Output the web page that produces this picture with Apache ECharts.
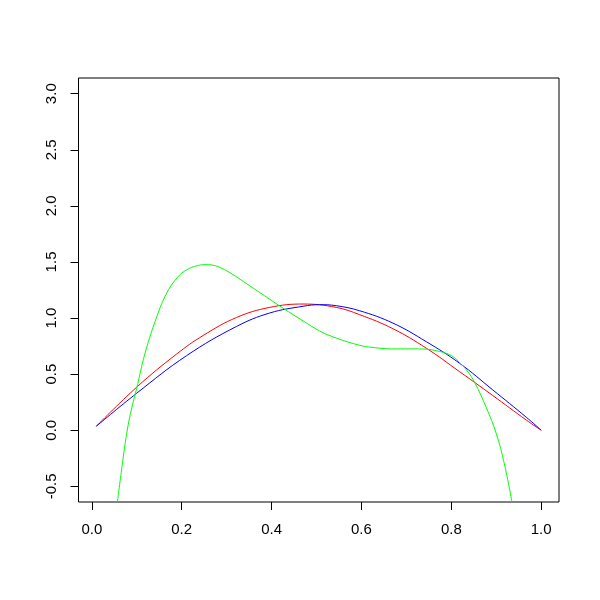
<!DOCTYPE html>
<html>
<head>
<meta charset="utf-8">
<script src="https://cdn.jsdelivr.net/npm/echarts@6/dist/echarts.min.js"></script>
<style>html,body{margin:0;padding:0;background:#fff}#c{width:600px;height:600px}</style>
</head>
<body>
<div id="c"></div>
<script>
// Values
var redX  = [0.01, 0.10, 0.189, 0.248, 0.322, 0.396, 0.470, 0.544, 0.596, 0.670, 0.744, 0.818, 0.892, 0.967, 1.00];
var redY  = [0.035, 0.384, 0.680, 0.845, 1.005, 1.095, 1.125, 1.095, 1.030, 0.905, 0.732, 0.523, 0.310, 0.090, 0.000];
var blueX = [0.01, 0.10, 0.211, 0.322, 0.396, 0.470, 0.507, 0.544, 0.596, 0.670, 0.744, 0.818, 0.892, 0.967, 1.00];
var blueY = [0.035, 0.330, 0.665, 0.925, 1.045, 1.105, 1.119, 1.110, 1.065, 0.955, 0.790, 0.598, 0.360, 0.115, 0.000];
var greenX = [0.057, 0.067, 0.078, 0.089, 0.100, 0.118, 0.141, 0.165, 0.190, 0.211, 0.235, 0.255, 0.275, 0.295, 0.315, 0.345, 0.385, 0.426, 0.470, 0.507, 0.544, 0.596, 0.618, 0.670, 0.710, 0.744, 0.774, 0.789, 0.804, 0.818, 0.835, 0.852, 0.878, 0.900, 0.918, 0.935];
var greenY = [-0.640, -0.330, -0.020, 0.200, 0.375, 0.680, 0.970, 1.210, 1.360, 1.430, 1.467, 1.476, 1.466, 1.432, 1.385, 1.305, 1.197, 1.087, 0.975, 0.885, 0.821, 0.757, 0.741, 0.725, 0.725, 0.723, 0.702, 0.685, 0.655, 0.605, 0.530, 0.425, 0.200, -0.030, -0.300, -0.640];
var xTicks = [0.0, 0.2, 0.4, 0.6, 0.8, 1.0];
var yTicks = [-0.5, 0.0, 0.5, 1.0, 1.5, 2.0, 2.5, 3.0];

function pairs(xs, ys) { return xs.map(function (x, i) { return [x, ys[i]]; }); }

var chart = echarts.init(document.getElementById('c'), null, {renderer: 'canvas'});
var font = 'Liberation Sans, Arial, Helvetica, sans-serif';
chart.setOption({
  animation: false,
  backgroundColor: '#ffffff',
  grid: {left: 78.5, right: 41, top: 78, bottom: 98, show: true, borderColor: '#000', borderWidth: 1, backgroundColor: 'transparent'},
  xAxis: {
    type: 'value', min: -0.0296, max: 1.0396,
    axisLine: {show: false, onZero: false},
    splitLine: {show: false},
    axisTick: {show: true, length: 8, lineStyle: {color: '#000'}, customValues: xTicks},
    axisLabel: {customValues: xTicks, margin: 20, fontSize: 15, color: '#000', fontFamily: font,
      formatter: function (v) { return v.toFixed(1); }}
  },
  yAxis: {
    type: 'value', min: -0.64, max: 3.14,
    axisLine: {show: false, onZero: false},
    splitLine: {show: false},
    axisTick: {show: true, length: 8, lineStyle: {color: '#000'}, customValues: yTicks},
    axisLabel: {customValues: yTicks, margin: 19, rotate: 90, fontSize: 15, color: '#000', fontFamily: font,
      formatter: function (v) { return v.toFixed(1); }}
  },
  series: [
    {type: 'line', data: pairs(redX, redY), smooth: 0.4, showSymbol: false, lineStyle: {color: '#ff0000', width: 1}, itemStyle: {color: '#ff0000'}},
    {type: 'line', data: pairs(blueX, blueY), smooth: 0.4, showSymbol: false, lineStyle: {color: '#0000ff', width: 1}, itemStyle: {color: '#0000ff'}},
    {type: 'line', data: pairs(greenX, greenY), smooth: 0.4, showSymbol: false, clip: true, lineStyle: {color: '#00ff00', width: 1}, itemStyle: {color: '#00ff00'}}
  ]
});
</script>
</body>
</html>
